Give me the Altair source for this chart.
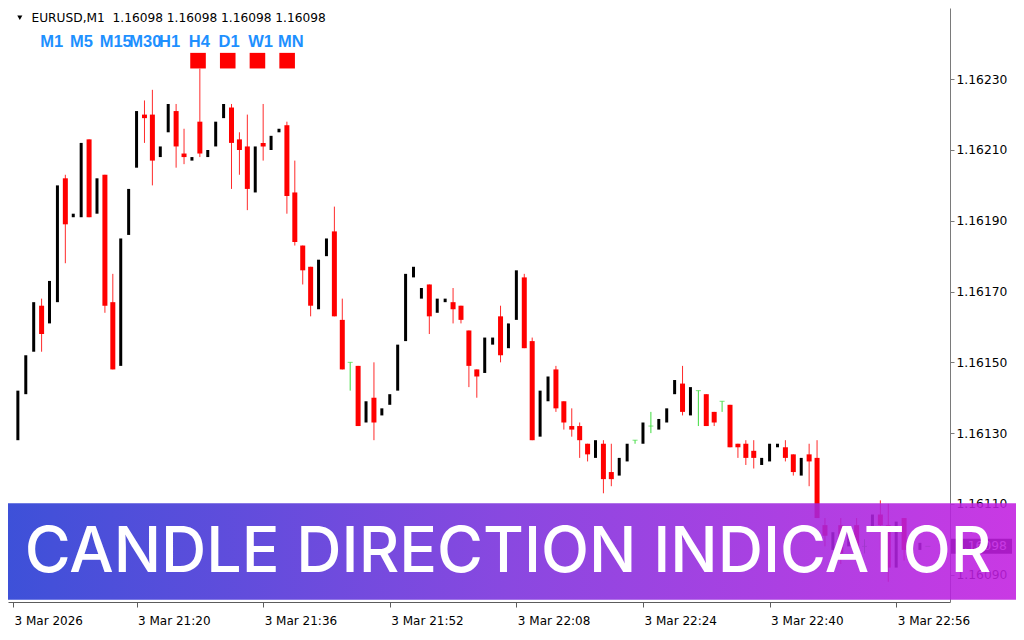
import altair as alt
import pandas as pd
import numpy as np

# ---------------- data ----------------
opens = [1.16128, 1.16141, 1.16153, 1.16166, 1.16161, 1.16167, 1.16202, 1.16191, 1.16191, 1.16213,
         1.16192, 1.16203, 1.16167, 1.16149, 1.16186, 1.16205, 1.16220, 1.16220, 1.16208, 1.16215,
         1.16221, 1.16209, 1.16207, 1.16218, 1.16208, 1.16211, 1.16219, 1.16222, 1.16213, 1.16211,
         1.16198, 1.16212, 1.16210, 1.16215, 1.16217, 1.16198, 1.16183, 1.16177, 1.16165, 1.16180,
         1.16187, 1.16162, 1.16150, 1.16149, 1.16133, 1.16140, 1.16135, 1.16138, 1.16142, 1.16156,
         1.16174, 1.16168, 1.16172, 1.16164, 1.16167, 1.16167, 1.16166, 1.16159, 1.16148, 1.16147,
         1.16155, 1.16163, 1.16154, 1.16162, 1.16174, 1.16156, 1.16129, 1.16139, 1.16148, 1.16139,
         1.16132, 1.16132, 1.16127, 1.16123, 1.16127, 1.16119, 1.16118, 1.16122, 1.16128, 1.16127,
         1.16132, 1.16131, 1.16133, 1.16141, 1.16144, 1.16135, 1.16142, 1.16141, 1.16136, 1.16139,
         1.16138, 1.16127, 1.16127, 1.16125, 1.16121, 1.16122, 1.16126, 1.16126, 1.16124, 1.16118,
         1.16124, 1.16123, 1.16104, 1.16098, 1.16104, 1.16098, 1.16104, 1.16098, 1.16103, 1.16107,
         1.16104, 1.16092, 1.16106, 1.16096, 1.16097, 1.16098]
highs = [1.16142, 1.16152, 1.16167, 1.16168, 1.16173, 1.16200, 1.16203, 1.16192, 1.16212, 1.16213,
         1.16202, 1.16203, 1.16175, 1.16185, 1.16199, 1.16221, 1.16224, 1.16227, 1.16211, 1.16223,
         1.16223, 1.16216, 1.16208, 1.16233, 1.16210, 1.16218, 1.16223, 1.16223, 1.16215, 1.16220,
         1.16211, 1.16223, 1.16214, 1.16216, 1.16218, 1.16207, 1.16183, 1.16177, 1.16179, 1.16185,
         1.16194, 1.16168, 1.16150, 1.16149, 1.16139, 1.16150, 1.16137, 1.16141, 1.16155, 1.16175,
         1.16177, 1.16171, 1.16172, 1.16168, 1.16168, 1.16171, 1.16166, 1.16159, 1.16148, 1.16157,
         1.16157, 1.16166, 1.16161, 1.16176, 1.16175, 1.16157, 1.16142, 1.16146, 1.16149, 1.16139,
         1.16137, 1.16133, 1.16127, 1.16128, 1.16128, 1.16127, 1.16123, 1.16127, 1.16128, 1.16133,
         1.16136, 1.16134, 1.16137, 1.16145, 1.16149, 1.16143, 1.16142, 1.16141, 1.16136, 1.16139,
         1.16138, 1.16127, 1.16128, 1.16128, 1.16123, 1.16127, 1.16127, 1.16128, 1.16124, 1.16123,
         1.16127, 1.16128, 1.16106, 1.16102, 1.16106, 1.16103, 1.16106, 1.16100, 1.16107, 1.16111,
         1.16110, 1.16105, 1.16106, 1.16098, 1.16099, 1.16098]
lows = [1.16128, 1.16141, 1.16153, 1.16153, 1.16161, 1.16167, 1.16178, 1.16191, 1.16191, 1.16191,
        1.16192, 1.16164, 1.16148, 1.16149, 1.16186, 1.16205, 1.16212, 1.16200, 1.16208, 1.16215,
        1.16205, 1.16206, 1.16207, 1.16208, 1.16208, 1.16211, 1.16219, 1.16199, 1.16203, 1.16193,
        1.16198, 1.16207, 1.16210, 1.16215, 1.16192, 1.16183, 1.16172, 1.16163, 1.16165, 1.16180,
        1.16163, 1.16148, 1.16142, 1.16132, 1.16133, 1.16128, 1.16135, 1.16138, 1.16142, 1.16156,
        1.16174, 1.16168, 1.16158, 1.16164, 1.16167, 1.16161, 1.16161, 1.16143, 1.16140, 1.16147,
        1.16155, 1.16150, 1.16154, 1.16162, 1.16154, 1.16128, 1.16129, 1.16139, 1.16136, 1.16131,
        1.16129, 1.16123, 1.16122, 1.16123, 1.16113, 1.16115, 1.16118, 1.16122, 1.16127, 1.16127,
        1.16130, 1.16131, 1.16133, 1.16141, 1.16135, 1.16135, 1.16132, 1.16132, 1.16132, 1.16136,
        1.16126, 1.16123, 1.16121, 1.16120, 1.16121, 1.16122, 1.16126, 1.16122, 1.16118, 1.16118,
        1.16115, 1.16106, 1.16098, 1.16097, 1.16093, 1.16098, 1.16096, 1.16096, 1.16103, 1.16097,
        1.16088, 1.16092, 1.16094, 1.16096, 1.16097, 1.16098]
closes = [1.16142, 1.16152, 1.16167, 1.16158, 1.16173, 1.16200, 1.16189, 1.16192, 1.16212, 1.16191,
          1.16202, 1.16166, 1.16148, 1.16185, 1.16199, 1.16221, 1.16219, 1.16207, 1.16211, 1.16223,
          1.16211, 1.16208, 1.16208, 1.16209, 1.16210, 1.16218, 1.16223, 1.16212, 1.16210, 1.16199,
          1.16211, 1.16211, 1.16214, 1.16216, 1.16197, 1.16184, 1.16176, 1.16166, 1.16179, 1.16185,
          1.16163, 1.16148, 1.16150, 1.16132, 1.16139, 1.16133, 1.16137, 1.16141, 1.16155, 1.16175,
          1.16177, 1.16171, 1.16163, 1.16168, 1.16168, 1.16165, 1.16162, 1.16149, 1.16146, 1.16157,
          1.16157, 1.16152, 1.16161, 1.16176, 1.16154, 1.16128, 1.16142, 1.16146, 1.16137, 1.16133,
          1.16131, 1.16128, 1.16124, 1.16128, 1.16117, 1.16117, 1.16123, 1.16127, 1.16128, 1.16133,
          1.16132, 1.16134, 1.16137, 1.16145, 1.16136, 1.16143, 1.16142, 1.16132, 1.16133, 1.16139,
          1.16126, 1.16126, 1.16123, 1.16123, 1.16123, 1.16127, 1.16127, 1.16123, 1.16119, 1.16123,
          1.16122, 1.16106, 1.16101, 1.16102, 1.16096, 1.16103, 1.16097, 1.16098, 1.16107, 1.16104,
          1.16092, 1.16105, 1.16097, 1.16098, 1.16099, 1.16098]

time_tick_bars = [-0.615, 15, 31, 47, 63, 79, 95, 111]
time_tick_labels = ["3 Mar 2026", "3 Mar 21:20", "3 Mar 21:36", "3 Mar 21:52",
                    "3 Mar 22:08", "3 Mar 22:24", "3 Mar 22:40", "3 Mar 22:56"]
price_ticks = [1.16090, 1.16110, 1.16130, 1.16150, 1.16170, 1.16190, 1.16210, 1.16230]
header_text = "EURUSD,M1\u00a0\u00a01.16098 1.16098 1.16098 1.16098"
tf_labels = ["M1", "M5", "M15", "M30", "H1", "H4", "D1", "W1", "MN"]
tf_bear = [0, 0, 0, 0, 0, 1, 1, 1, 1]
last_price = 1.16098
banner_title = "CANDLE DIRECTION INDICATOR"

# ---------------- layout ----------------
KX, KY = 1008 / 1024, 624 / 640          # reference px -> chart px
W, H = 942, 594                           # plot area
PAD_R, PAD_B = 1008 - W, 624 - H
YTOP = 1.1625012
PPX = 0.0002 / 72.57
XDOM = [-0.615, 117.17]
YDOM = [YTOP - 609 * PPX, YTOP]


def dx(ref_x):
    return (ref_x - 5) / 8.125


def dy(ref_y):
    return YTOP - ref_y * PPX


df = pd.DataFrame({"i": np.arange(len(opens)), "o": opens, "h": highs, "l": lows, "c": closes})
df["kind"] = np.where(df.c > df.o, "bull", np.where(df.c < df.o, "bear", "doji"))

xscale = alt.Scale(domain=XDOM, nice=False, zero=False)
yscale = alt.Scale(domain=YDOM, nice=False, zero=False)

label_expr = "{}[indexof({}, datum.value)]".format(
    str(time_tick_labels).replace("'", '"'), str(time_tick_bars))

xaxis = alt.Axis(orient="bottom", values=time_tick_bars, labelExpr=label_expr, title=None,
                 grid=False, domainColor="#5c5c5c", tickColor="#5c5c5c", tickSize=5,
                 labelColor="#000000", labelFont="DejaVu Sans", labelFontSize=12,
                 labelAlign="left", labelPadding=8, labelOffset=1, labelFlush=False,
                 labelOverlap=False, labelBound=False)
yaxis = alt.Axis(orient="right", values=price_ticks, format=".5f", title=None, grid=False,
                 domainColor="#7a7a7a", tickColor="#7a7a7a", tickSize=4,
                 labelColor="#000000", labelFont="DejaVu Sans", labelFontSize=12.3,
                 labelPadding=2, labelOverlap=False, labelFlush=False, labelBound=False)

X = alt.X("i:Q", scale=xscale, axis=xaxis)


def Y(field):
    return alt.Y(field, scale=yscale, axis=yaxis)


def XF(field):
    return alt.X(field, scale=xscale, axis=xaxis)


base = alt.Chart(df)

wicks = base.transform_filter("datum.kind != 'bull'").mark_rule(strokeWidth=1).encode(
    x=X, y=Y("l:Q"), y2="h:Q",
    color=alt.Color("kind:N", scale=alt.Scale(domain=["bear", "doji"], range=["#ff2b2b", "#3fdc3f"]),
                    legend=None))
bear = base.transform_filter("datum.kind == 'bear'").mark_bar(width=5, color="#ff0000").encode(
    x=X, y=Y("o:Q"), y2="c:Q")
bull = base.transform_filter("datum.kind == 'bull'").mark_bar(width=3, color="#000000").encode(
    x=X, y=Y("l:Q"), y2="h:Q")
doji = base.transform_filter("datum.kind == 'doji'").mark_tick(
    orient="horizontal", size=5, thickness=1, color="#3fdc3f").encode(x=X, y=Y("o:Q"))

# header line
hdr = pd.DataFrame({"t": [header_text], "x": [dx(19)], "y": [dy(14.5)]})
header = alt.Chart(hdr).mark_text(align="left", baseline="alphabetic", font="DejaVu Sans",
                                  fontSize=12.2, color="#000000").encode(
    x=XF("x:Q"), y=Y("y:Q"), text="t:N")
tri = alt.Chart(pd.DataFrame({"x": [dx(7)], "y": [dy(10)]})).mark_point(
    shape="triangle-down", size=26, filled=True, color="#000000", opacity=1).encode(
    x=XF("x:Q"), y=Y("y:Q"))

# timeframe direction panel
tf = pd.DataFrame({"t": tf_labels, "k": range(len(tf_labels)), "bear": tf_bear})
tf["x"] = [dx(28 + 30.5 * k) for k in tf.k]
tf["y"] = dy(40)
tf["bx"] = [dx(190 + 30.5 * (k - 5) - 8) for k in tf.k]
tf["bx2"] = [dx(190 + 30.5 * (k - 5) + 8) for k in tf.k]
tf["by"] = dy(46)
tf["by2"] = dy(62)
tf_text = alt.Chart(tf).mark_text(align="left", baseline="alphabetic",
                                  font="Liberation Sans Narrow, Liberation Sans, Arial, sans-serif",
                                  fontWeight="bold", fontSize=16.5, color="#1e90ff").encode(
    x=XF("x:Q"), y=Y("y:Q"), text="t:N")
tf_box = alt.Chart(tf).transform_filter("datum.bear == 1").mark_rect(color="#ff0000").encode(
    x=XF("bx:Q"), x2="bx2:Q", y=Y("by:Q"), y2="by2:Q")

# bid price tag on the axis
bid = pd.DataFrame({"p": [last_price], "t": ["{:.5f}".format(last_price)]})
bid_box = alt.Chart(bid).mark_rule(strokeWidth=15, color="#000000").encode(
    x=alt.value(W + 1), x2=alt.value(W + 62), y=Y("p:Q"))
bid_txt = alt.Chart(bid).mark_text(align="left", baseline="middle", font="DejaVu Sans",
                                   fontSize=12.3, color="#ffffff").encode(
    x=alt.value(W + 6), y=Y("p:Q"), text="t:N")

# banner
grad = alt.Gradient(gradient="linear",
                    stops=[alt.GradientStop(color="#2339d3", offset=0),
                           alt.GradientStop(color="#7a2fdc", offset=0.5),
                           alt.GradientStop(color="#c21ee0", offset=1)],
                    x1=0, x2=1, y1=0, y2=0)
one = pd.DataFrame({"t": [banner_title]})
banner = alt.Chart(one).mark_rect(fill=grad, opacity=0.88).encode(
    x=alt.value(0), x2=alt.value(1008), y=alt.value(508 * KY), y2=alt.value(607 * KY))
banner_txt = alt.Chart(one).mark_text(align="center", baseline="alphabetic", font="Inter",
                                      fontSize=62.7, fontWeight=500, color="#ffffff").encode(
    x=alt.value(500), y=alt.value(578 * KY), text="t:N")

chart = alt.layer(wicks, bear, bull, doji, header, tri, tf_text, tf_box,
                  bid_box, bid_txt, banner, banner_txt).properties(
    width=W, height=H, background="#ffffff",
    padding={"left": 0, "top": 0, "right": PAD_R, "bottom": PAD_B},
    autosize=alt.AutoSizeParams(type="none")
).configure_view(stroke=None)

chart.save("out.html", embed_options={"renderer": "svg", "actions": False})
